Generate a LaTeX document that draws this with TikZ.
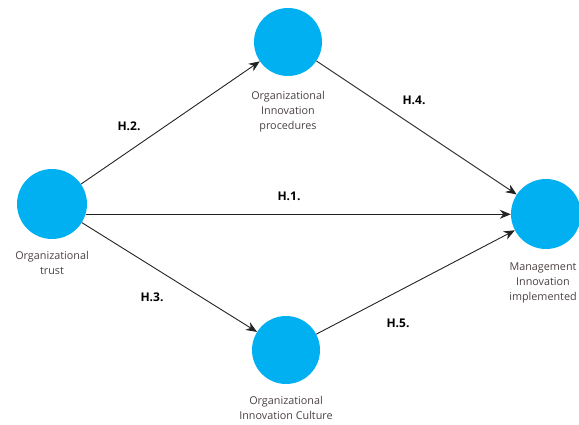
\documentclass[tikz,border=0pt]{standalone}
\usepackage{fontspec}
\setmainfont{Open Sans}
\usetikzlibrary{arrows.meta}
\definecolor{bubble}{RGB}{0,176,240}
\definecolor{labelgray}{RGB}{75,65,65}
\definecolor{linegray}{RGB}{35,35,35}
\begin{document}
\begin{tikzpicture}[x=1pt,y=-1pt,
  construct/.style={circle,fill=bubble,draw=none,minimum size=70pt,inner sep=0pt},
  caption/.style={align=center,text=labelgray,font=\fontsize{10.8}{15}\selectfont,inner sep=0pt},
  hyp/.style={font=\bfseries\fontsize{12}{13}\selectfont,text=black,inner sep=0pt},
  link/.style={draw=linegray,line width=0.9pt,-{Stealth[length=11pt,width=9pt]}}]
\useasboundingbox (0,0) rectangle (579,425);
\node[construct] (trust) at (52,204) {};
\node[construct,minimum size=68pt] (proc) at (288,42) {};
\node[construct,minimum size=68pt] (cult) at (286,350) {};
\node[construct] (mgmt) at (546,214) {};
\node[caption] (trustlbl) at (52,263) {Organizational\\trust};
\node[caption] (proclbl) at (288,112) {Organizational\\Innovation\\procedures};
\node[caption] (cultlbl) at (286,408) {Organizational\\Innovation Culture};
\node[caption] (mgmtlbl) at (543,283) {Management\\Innovation\\implemented};
\draw[link] (trust) -- (proc);
\draw[link] (trust) -- (cult);
\draw[link] (trust.-17) -- (trust.-17 -| mgmt.west);
\draw[link] (proc) -- (mgmt);
\draw[link] (cult) -- (mgmt);
\node[hyp] (h2) at (129,126) {H.2.};
\node[hyp] (h4) at (414,100) {H.4.};
\node[hyp] (h1) at (289,196) {H.1.};
\node[hyp] (h3) at (152,297) {H.3.};
\node[hyp] (h5) at (398,323) {H.5.};
\end{tikzpicture}
\end{document}
